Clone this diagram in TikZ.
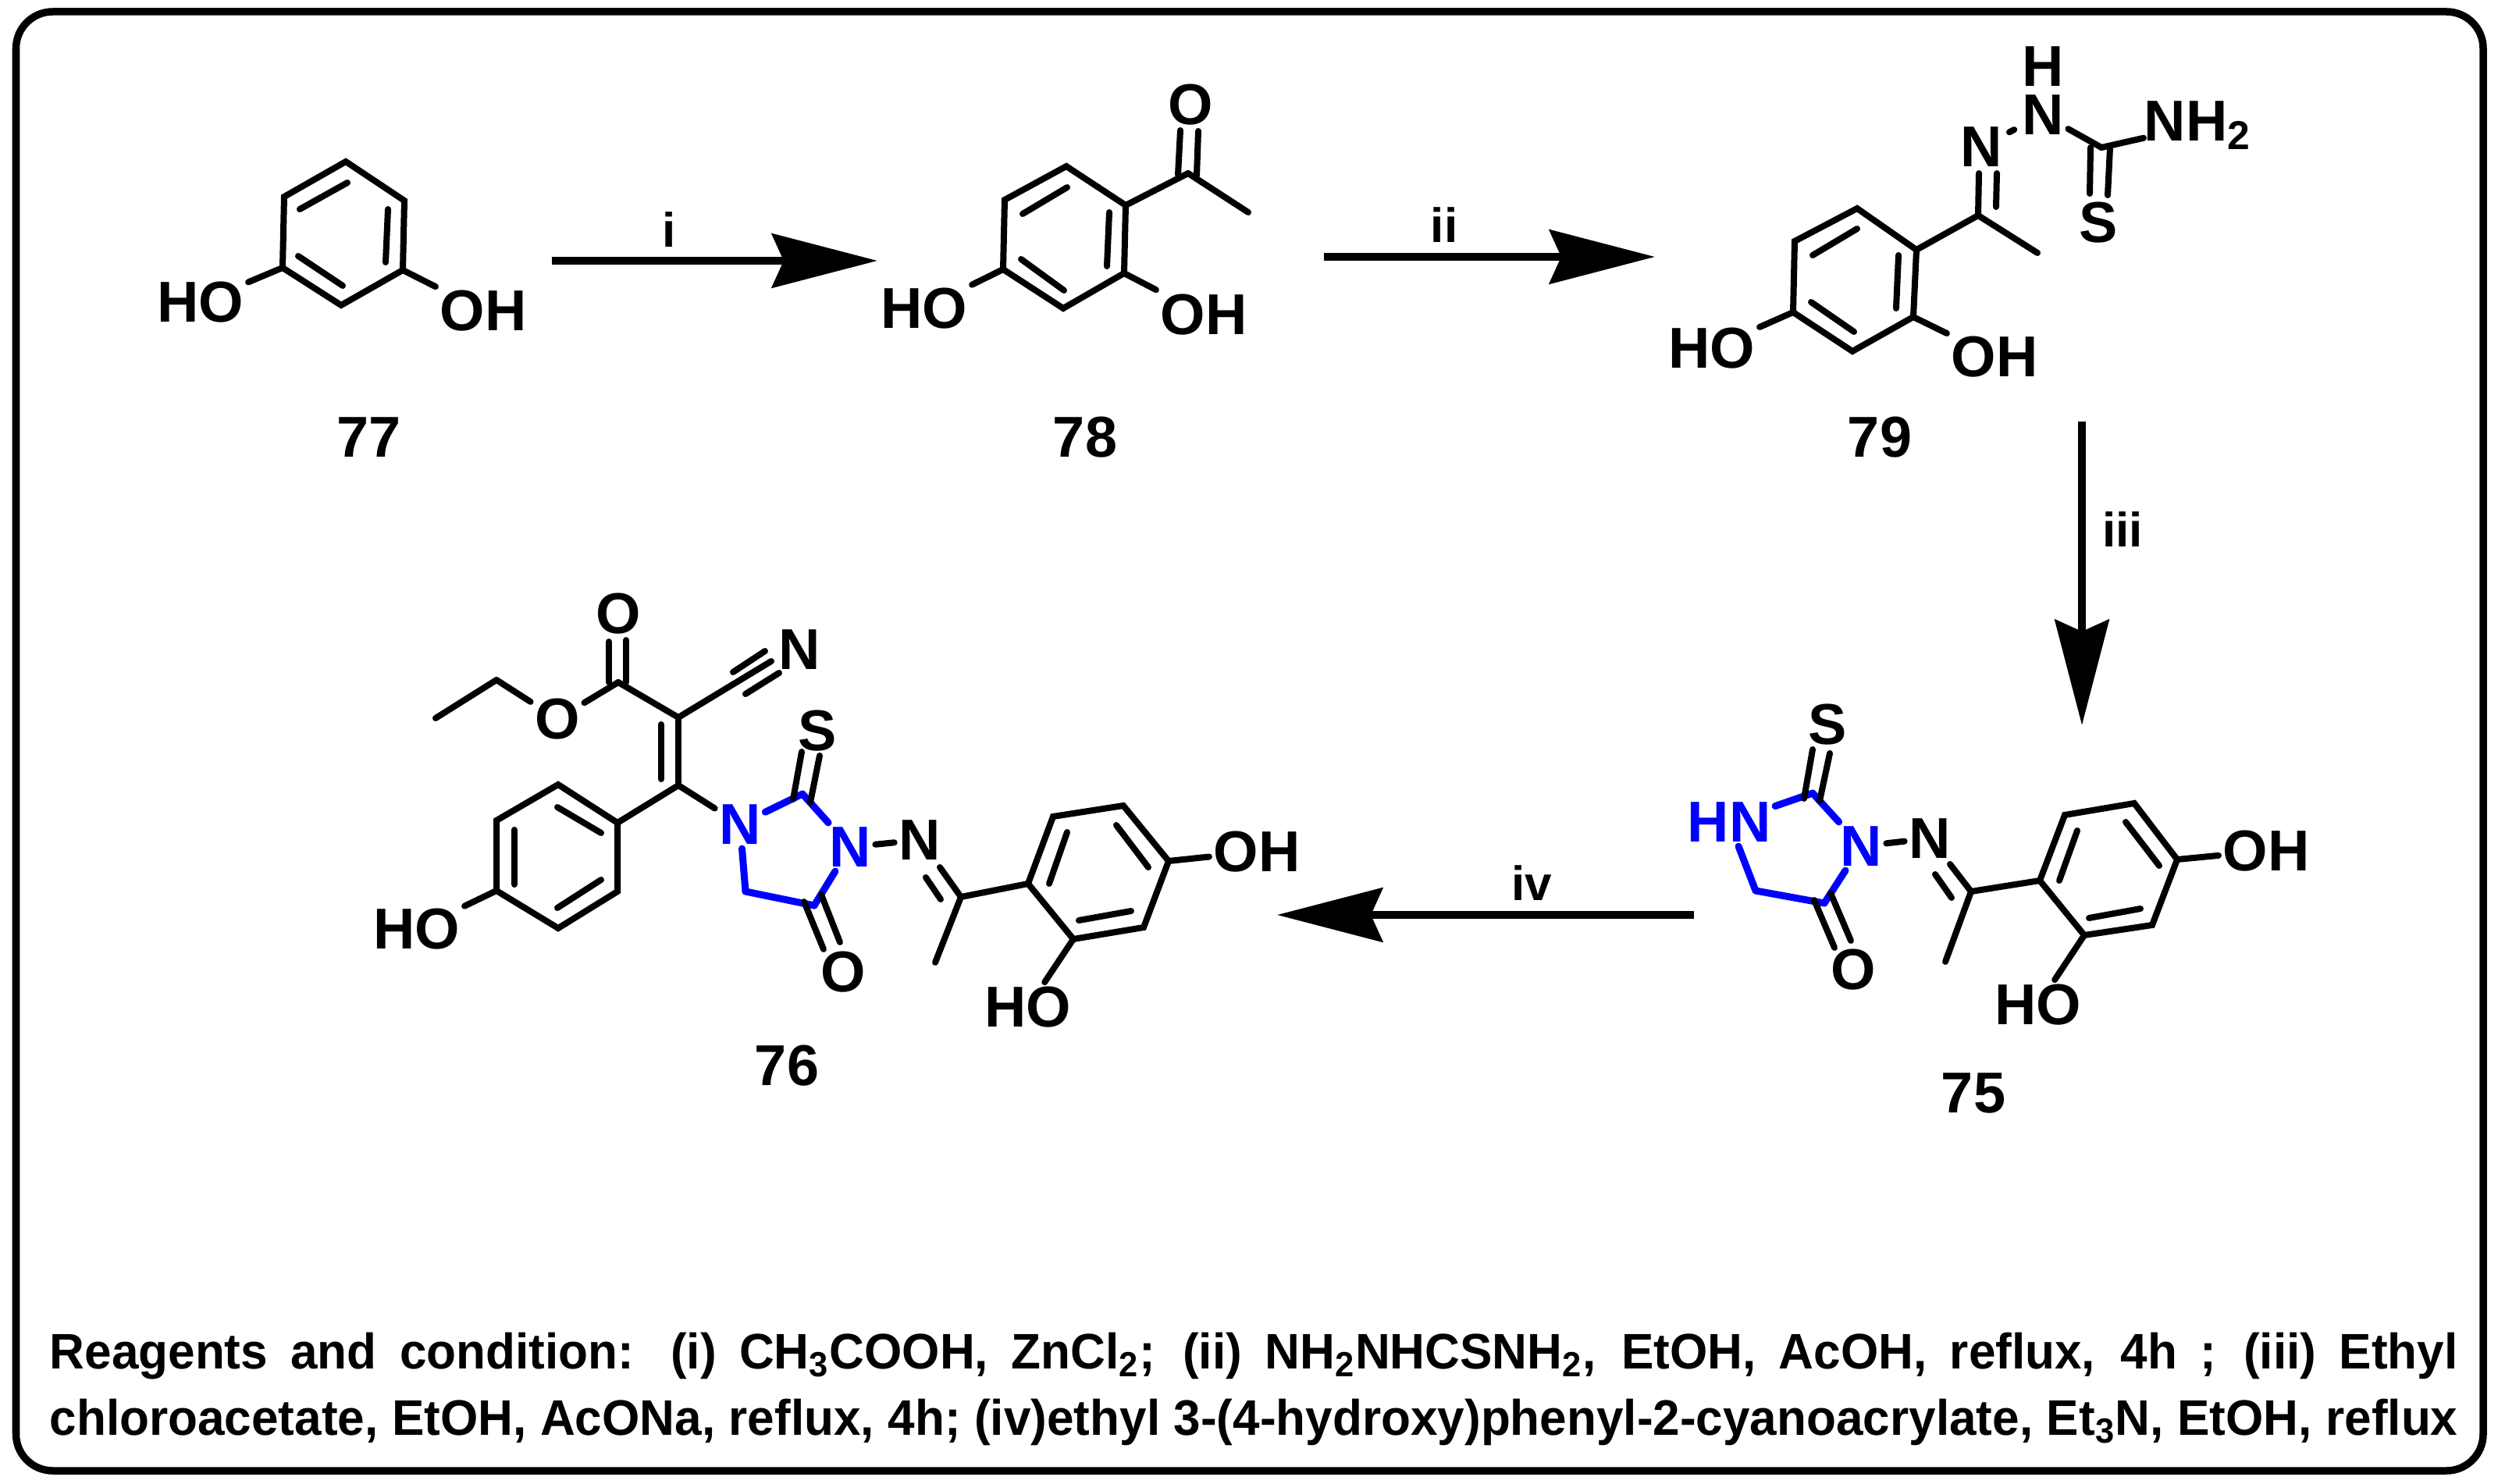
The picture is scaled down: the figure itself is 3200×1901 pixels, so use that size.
\documentclass[tikz,border=0pt]{standalone}
\usepackage{fontspec}
\usetikzlibrary{arrows.meta}
\setmainfont{Liberation Sans}
\newfontfamily\footfont[FakeStretch=0.97]{Liberation Sans}
\tikzset{
  bond/.style={line width=0.08cm,line cap=round,line join=miter},
  bluebond/.style={bond,blue,line width=0.09cm},
  atom/.style={inner sep=0.05cm,font=\bfseries\fontsize{21}{21}\selectfont},
  blueatom/.style={atom,text=blue},
  cmpd/.style={inner sep=0pt,font=\bfseries\fontsize{21}{21}\selectfont},
  reagent/.style={inner sep=0pt,font=\bfseries\fontsize{17.6}{18}\selectfont},
  footline/.style={inner sep=0pt,anchor=base west,font=\footfont\bfseries\fontsize{18.2}{20}\selectfont},
  rxn/.style={line width=0.1cm,-{Stealth[length=1.35cm,width=0.69cm,inset=0.15cm]}},
}

\begin{document}
\begin{tikzpicture}[x=0.01cm,y=-0.01cm]
  \useasboundingbox (0,0) rectangle (3200,1901);
  \draw[line width=0.095cm,rounded corners=0.47cm] (20.5,15) rectangle (3181,1884);

  % carbon positions
  \foreach \nm/\x/\y in {
    r771/443/207,r772/364/252,r773/362/343,r774/437/391,r775/516/346,r776/518/257,
    r781/1366/213,r782/1287/256,r783/1285/345,r784/1362/395,r785/1440/350,r786/1442/263,
    r791/2379/267,r792/2299/309,r793/2297/400,r794/2373/450,r795/2451/406,r796/2455/320,
    r751/2645/1044,r752/2734/1029,r753/2789/1101,r754/2757/1185,r755/2670/1198,r756/2613/1128,
    r761/1349/1046,r762/1439/1032,r763/1497/1103,r764/1465/1188,r765/1375/1203,r766/1317/1132,
    a761/715/1005,a762/636/1051,a763/636/1141,a764/715/1189,a765/791/1142,a766/791/1054,
    co78/1522/222,me78/1599/272,
    ci79/2534/276,me79/2610/324,cs79/2692/189,
    cs75/2322/1016,co75/2337/1157,ch75/2249/1141,ci75/2525/1142,me75/2492/1232,
    et1/558/920,et2/636/871,ce76/792/874,ca76/869/919,cb76/869/1006,
    cs76/1028/1017,co76/1043/1160,ch76/955/1142,ci76/1231/1149,me76/1198/1233} {
    \coordinate (\nm) at (\x,\y);
  }

  % atom labels
  \foreach \nm/\x/\y/\txt in {
    ho77/257/387/HO,oh77/619/398/OH,
    ho78/1184/395/HO,oh78/1542/403/OH,o78/1525/134/O,
    ho79/2193/446/HO,oh79/2555/457/OH,n79/2538/188/N,nh79/2617/147/N,s79/2688/285/S,
    s75/2341/928/S,o75/2374/1242/O,n75/2472/1074/N,oh75/2903/1090/OH,ho75/2611/1287/HO,
    oe76/714/921/O,ok76/792/786/O,cn76/1024/832/N,ho76/534/1190/HO,s76/1047/936/S,o76/1080/1245/O,
    n76/1178/1076/N,oh76/1610/1091/OH,hp76/1317/1290/HO} {
    \node[atom] (\nm) at (\x,\y) {\txt};
  }
  \node[cmpd] (h79) at (2617,85) {H};
  \node[atom,anchor=base west,inner sep=0pt] (nh279) at (2746,181) {NH\textsubscript{2}};
  \node[blueatom] (hn75) at (2215,1053) {HN};
  \node[blueatom] (na75) at (2384,1084) {N};
  \node[blueatom] (nb76) at (948,1056) {N};
  \node[blueatom] (na76) at (1089,1085) {N};

  % the six-membered rings
  \foreach \m in {r77,r78,r79,r75,r76,a76} {
    \draw[bond] (\m1) -- (\m2) -- (\m3) -- (\m4) -- (\m5) -- (\m6) -- cycle;
  }

  % single bonds
  \foreach \a/\b in {
    r773/ho77,r775/oh77,
    r783/ho78,r785/oh78,r786/co78,co78/me78,
    r793/ho79,r795/oh79,r796/ci79,ci79/me79,nh79/cs79,cs79/nh279,
    na75/n75,ci75/r756,ci75/me75,r753/oh75,r755/ho75,
    et1/et2,et2/oe76,oe76/ce76,ce76/ca76,cb76/a766,a763/ho76,cb76/nb76,
    na76/n76,ci76/r766,ci76/me76,r763/oh76,r765/hp76} {
    \draw[bond] (\a) -- (\b);
  }
  \draw[bond,shorten <=0.04cm,shorten >=0.05cm] (n79) -- (nh79);
  \foreach \a/\b in {hn75/cs75,cs75/na75,na75/co75,co75/ch75,ch75/hn75,
    nb76/cs76,cs76/na76,na76/co76,co76/ch76,ch76/nb76} {
    \draw[bluebond] (\a) -- (\b);
  }

  % double bonds, and the nitrile
  \foreach \xa/\ya/\xb/\yb in {
    445/234/384/268, 497/268/494/336, 382/328/439/366,
    1367/240/1310/274, 1421/272/1418/341, 1308/332/1363/372,
    1512/167/1509/224, 1535/168/1533/225,
    2379/293/2322/327, 2432/327/2429/395, 2320/387/2375/425,
    2534/276/2535/222, 2557/265/2558/222,
    2678/189/2677/248, 2703/189/2700/250,
    2322/960/2311/1023, 2344/965/2331/1026,
    2324/1153/2350/1214, 2345/1144/2371/1205,
    2498/1107/2525/1142, 2479/1120/2500/1150,
    2661/1064/2638/1128, 2723/1053/2766/1109, 2742/1164/2676/1176,
    780/822/780/874, 802/820/802/874,
    869/919/869/1006, 847/928/847/998,
    869/919/988/847, 939/861/980/834, 955/889/998/862,
    714/1034/770/1067, 659/1063/659/1133, 714/1163/770/1127,
    1027/963/1016/1024, 1050/968/1038/1028,
    1030/1155/1055/1216, 1052/1146/1076/1207,
    1204/1111/1231/1149, 1186/1124/1205/1152,
    1367/1066/1344/1132, 1430/1057/1471/1111, 1449/1167/1382/1179} {
    \draw[bond] (\xa,\ya) -- (\xb,\yb);
  }

  % compound numbers
  \foreach \nm/\x/\y/\txt in {n77/473/560/77,n78/1390/560/78,n795/2408/560/79,n755/2528/1400/75,n765/1008/1365/76} {
    \node[cmpd] (\nm) at (\x,\y) {\txt};
  }

  % reaction arrows
  \coordinate (ia) at (707,334);
  \coordinate (ib) at (1124,334);
  \coordinate (iia) at (1696,329);
  \coordinate (iib) at (2120,329);
  \coordinate (iiia) at (2667,540);
  \coordinate (iiib) at (2667,929);
  \coordinate (iva) at (2170,1172);
  \coordinate (ivb) at (1636,1172);
  \foreach \a/\b in {ia/ib,iia/iib,iiia/iiib,iva/ivb} {
    \draw[rxn] (\a) -- (\b);
  }
  \node[reagent] (ri) at (857,294) {i};
  \node[reagent] (rii) at (1850,288) {ii};
  \node[reagent] (riii) at (2719,678) {iii};
  \node[reagent] (riv) at (1962,1131) {iv};

  % conditions
  \node[footline] (condone) at (63,1753.5) {\makebox[30.83cm][s]{Reagents and condition: (i) CH\textsubscript{3}COOH, ZnCl\textsubscript{2}; (ii) NH\textsubscript{2}NHCSNH\textsubscript{2}, EtOH, AcOH, reflux, 4h ; (iii) Ethyl}};
  \node[footline] (condtwo) at (63,1838.6) {\makebox[30.83cm][s]{chloroacetate, EtOH, AcONa, reflux, 4h; (iv)ethyl 3-(4-hydroxy)phenyl-2-cyanoacrylate, Et\textsubscript{3}N, EtOH, reflux}};
\end{tikzpicture}
\end{document}
